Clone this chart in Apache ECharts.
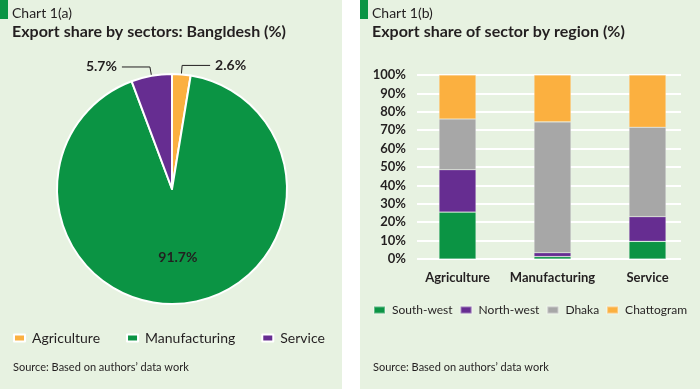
<!DOCTYPE html>
<html>
<head>
<meta charset="utf-8">
<script src="https://cdn.jsdelivr.net/npm/echarts@6/dist/echarts.min.js"></script>
<style>
html,body{margin:0;padding:0;background:#ffffff;}
#c{width:700px;height:389px;}
</style>
</head>
<body>
<div id="c"></div>
<script>
// Chart 1(a) data
var pieSectors = ['Agriculture', 'Manufacturing', 'Service'];
var pieValues = [2.6, 91.7, 5.7];

// Chart 1(b) data
var barCategories = ['Agriculture', 'Manufacturing', 'Service'];
var regions = ['South-west', 'North-west', 'Dhaka', 'Chattogram'];
var southWest = [25.5, 1.3, 9.6];
var northWest = [23.0, 2.1, 13.4];
var dhaka = [27.6, 71.1, 48.6];
var chattogram = [23.9, 25.5, 28.4];
var yTicks = [0, 10, 20, 30, 40, 50, 60, 70, 80, 90, 100];

var C_ORANGE = '#fbb040', C_GREEN = '#0b9444', C_PURPLE = '#662d91', C_GRAY = '#a7a7a7';
var BG = '#e7f2e1', TXT = '#231f20';
var FONT = 'Lato, "Open Sans", sans-serif';

var chart = echarts.init(document.getElementById('c'), null, {renderer: 'canvas'});

var pieColors = [C_ORANGE, C_GREEN, C_PURPLE];
var pieData = pieSectors.map(function (n, i) {
  var item = {name: n, value: pieValues[i], itemStyle: {color: pieColors[i]}};
  if (i === 1) {
    item.label = {position: 'inside'};
    item.labelLine = {show: false};
  }
  return item;
});

var regionData = [southWest, northWest, dhaka, chattogram];
var regionColors = [C_GREEN, C_PURPLE, C_GRAY, C_ORANGE];

var barSeries = regions.map(function (r, i) {
  return {
    name: r, type: 'bar', stack: 'total', xAxisIndex: 0, yAxisIndex: 0,
    barWidth: 37, data: regionData[i],
    itemStyle: {color: regionColors[i], borderColor: 'rgba(255,255,255,0.35)', borderWidth: 0.6},
    emphasis: {disabled: true}, z: 3
  };
});

var option = {
  animation: false,
  textStyle: {fontFamily: FONT},
  graphic: [
    {type: 'rect', shape: {x: 0, y: 0, width: 342, height: 389}, style: {fill: BG}, z: -10},
    {type: 'rect', shape: {x: 360, y: 0, width: 340, height: 389}, style: {fill: BG}, z: -10},
    {type: 'rect', shape: {x: 0, y: 0, width: 8, height: 19}, style: {fill: C_GREEN}, z: -5},
    {type: 'rect', shape: {x: 360, y: 0, width: 8, height: 19}, style: {fill: C_GREEN}, z: -5},
    {type: 'text', left: 13, top: 362, style: {text: 'Source: Based on authors\u2019 data work', fill: TXT, font: '11px ' + FONT}},
    {type: 'text', left: 373, top: 362, style: {text: 'Source: Based on authors\u2019 data work', fill: TXT, font: '11px ' + FONT}}
  ],
  title: [
    {text: 'Chart 1(a)', left: 12, top: 6, padding: 0, textStyle: {fontSize: 14, fontWeight: 'normal', color: TXT, fontFamily: FONT}},
    {text: 'Export share by sectors: Bangldesh (%)', left: 12, top: 24, padding: 0, textStyle: {fontSize: 16, fontWeight: 'bold', color: TXT, fontFamily: FONT}},
    {text: 'Chart 1(b)', left: 372, top: 6, padding: 0, textStyle: {fontSize: 14, fontWeight: 'normal', color: TXT, fontFamily: FONT}},
    {text: 'Export share of sector by region (%)', left: 372, top: 24, padding: 0, textStyle: {fontSize: 16, fontWeight: 'bold', color: TXT, fontFamily: FONT}}
  ],
  legend: [
    {
      data: pieSectors, left: 13, top: 331, itemWidth: 11, itemHeight: 7, itemGap: 26,
      icon: 'rect', padding: 0,
      textStyle: {fontSize: 14, color: TXT, fontFamily: FONT, padding: [0, 0, 0, 2]}
    },
    {
      data: regions, left: 373, top: 304, width: 327, itemWidth: 11, itemHeight: 7, itemGap: 7,
      icon: 'rect', padding: 0,
      textStyle: {fontSize: 12, color: TXT, fontFamily: FONT, padding: [0, 0, 0, 2]}
    }
  ],
  grid: [
    {left: 410, right: 5, top: 75, bottom: 130, containLabel: false},
    {left: 417, right: 19, top: 75, bottom: 130, containLabel: false}
  ],
  xAxis: [
    {
      type: 'category', gridIndex: 0, data: barCategories,
      axisLine: {show: false}, axisTick: {show: false},
      axisLabel: {interval: 0, fontSize: 13, fontWeight: 'bold', color: TXT, margin: 12, fontFamily: FONT}
    },
    {type: 'category', gridIndex: 1, data: barCategories, show: false}
  ],
  yAxis: [
    {type: 'value', gridIndex: 0, min: 0, max: 100, interval: 10, show: false, splitLine: {show: false}},
    {
      type: 'value', gridIndex: 1, min: 0, max: 100, interval: 10,
      axisLine: {show: false}, axisTick: {show: false},
      splitLine: {show: true, lineStyle: {color: '#ffffff', width: 2}},
      axisLabel: {fontSize: 13, fontWeight: 'bold', color: TXT, margin: 11, fontFamily: FONT,
        formatter: function (v) { return yTicks.indexOf(v) >= 0 ? v + '%' : ''; }}
    }
  ],
  series: [
    {
      type: 'pie', center: [172, 189], radius: 115, startAngle: 90, clockwise: true,
      data: pieData, legendHoverLink: false, emphasis: {disabled: true},
      itemStyle: {borderColor: '#ffffff', borderWidth: 2},
      label: {show: true, position: 'outside', color: TXT, fontSize: 14, fontWeight: 'bold', fontFamily: FONT,
        formatter: function (p) { return p.value.toFixed(1) + '%'; }},
      labelLine: {show: true, length: 9, length2: 28, lineStyle: {color: TXT, width: 1}},
      labelLayout: function (p) {
        return p.dataIndex === 1 ? {dy: 8} : {};
      }
    }
  ].concat(barSeries)
};

chart.setOption(option);
</script>
</body>
</html>
